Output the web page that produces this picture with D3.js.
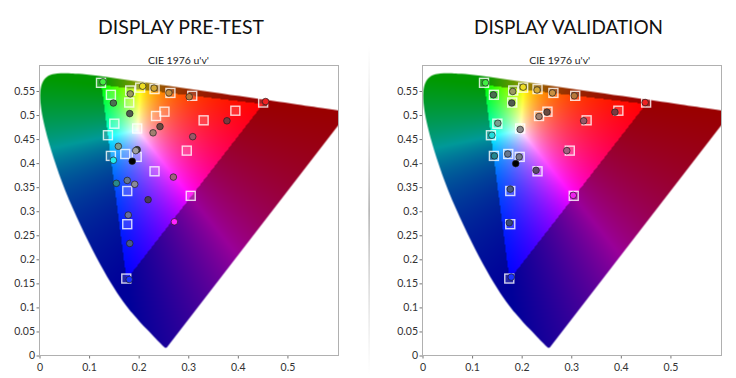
<!DOCTYPE html>
<html><head><meta charset="utf-8">
<script src="https://cdn.jsdelivr.net/npm/d3@7"></script>
<style>
body{margin:0;background:#fff;}
svg{display:block;font-family:Lato,"Liberation Sans",Arial,sans-serif;}
</style>
</head><body>
<svg id="chart" width="736" height="378"></svg>
<script>
// CIE 1931 2° spectral locus chromaticities (x, y)
const locusNm = [380,410,420,425,430,435,440,445,450,455,460,465,470,475,480,485,490,495,500,505,510,515,520,525,530,535,540,550,560,570,580,590,600,610,620,640,660,700];
const locusX = [0.1741,0.1726,0.1714,0.1703,0.1689,0.1669,0.1644,0.1611,0.1566,0.1510,0.1440,0.1355,0.1241,0.1096,0.0913,0.0687,0.0454,0.0235,0.0082,0.0039,0.0139,0.0389,0.0743,0.1142,0.1547,0.1929,0.2296,0.3016,0.3731,0.4441,0.5125,0.5752,0.6270,0.6658,0.6915,0.7190,0.7300,0.7347];
const locusY = [0.0050,0.0048,0.0051,0.0058,0.0069,0.0086,0.0109,0.0138,0.0177,0.0227,0.0297,0.0399,0.0578,0.0868,0.1327,0.2007,0.2950,0.4127,0.5384,0.6548,0.7502,0.8120,0.8338,0.8262,0.8059,0.7816,0.7543,0.6923,0.6245,0.5547,0.4866,0.4242,0.3725,0.3340,0.3083,0.2809,0.2700,0.2653];

const panelTitles = ["DISPLAY PRE-TEST", "DISPLAY VALIDATION"];
const subTitle = "CIE 1976 u'v'";
const xTicks = [0, 0.1, 0.2, 0.3, 0.4, 0.5];
const yTicks = [0, 0.05, 0.1, 0.15, 0.2, 0.25, 0.3, 0.35, 0.4, 0.45, 0.5, 0.55];

// target chromaticities (squares), same in both panels
const targetU = [0.124,0.144,0.183,0.181,0.203,0.232,0.264,0.308,0.451,0.395,0.331,0.252,0.235,0.151,0.197,0.138,0.144,0.173,0.196,0.297,0.232,0.177,0.305,0.177,0.175];
const targetV = [0.567,0.542,0.551,0.526,0.557,0.554,0.546,0.540,0.526,0.509,0.489,0.507,0.498,0.482,0.472,0.458,0.415,0.419,0.413,0.426,0.383,0.342,0.332,0.273,0.160];

// measured (circles) – pre-test
const preU = [0.128,0.208,0.231,0.261,0.302,0.456,0.183,0.149,0.182,0.378,0.243,0.229,0.309,0.159,0.197,0.194,0.149,0.187,0.270,0.177,0.155,0.192,0.219,0.272,0.179,0.182,0.181];
const preV = [0.569,0.560,0.556,0.546,0.538,0.528,0.544,0.525,0.503,0.488,0.476,0.463,0.455,0.435,0.428,0.426,0.406,0.404,0.371,0.364,0.358,0.356,0.324,0.278,0.292,0.233,0.158];
const preColor = ["#44ee44","#eedd22","#d4aa33","#c89040","#b8783a","#ee2222","#9a9a60","#4a7050","#505a50","#7a3a40","#6a4a40","#a08070","#985868","#78a090","#3a3a3a","#a0a0a0","#22eeee","#000000","#a06080","#687890","#2a8a8a","#8a8a98","#4a3a58","#ff22ff","#6a70a0","#4a5a8a","#1a33ff"];

// measured (circles) – validation
const valU = [0.127,0.203,0.231,0.262,0.306,0.449,0.182,0.143,0.180,0.388,0.251,0.235,0.325,0.152,0.197,0.140,0.145,0.172,0.195,0.188,0.291,0.229,0.177,0.304,0.175,0.179];
const valV = [0.567,0.558,0.552,0.546,0.540,0.526,0.549,0.542,0.525,0.506,0.506,0.497,0.488,0.483,0.470,0.458,0.415,0.419,0.413,0.399,0.426,0.385,0.346,0.333,0.276,0.163];
const valColor = ["#44ee44","#eedd22","#d4aa33","#c89040","#b8783a","#ee2222","#9a9a60","#4a7050","#505a50","#7a3a40","#6a4a40","#a08070","#985868","#78a090","#8a8a8a","#22dddd","#228890","#687890","#707888","#000000","#a06080","#5a4a6a","#4a5a80","#ee22ee","#3a4a7a","#1a33ff"];

const svg = d3.select("#chart");
const W = 299, H = 290, DOM = 0.603;
const panels = [
  {x0: 39.5, y0: 65.5, title: panelTitles[0], tx: 181, sx: 178.5, tl: 166, u: preU, v: preV, c: preColor},
  {x0: 422.5, y0: 65.5, title: panelTitles[1], tx: 568.5, sx: 559.7, tl: 189, u: valU, v: valV, c: valColor}
];

const x = d3.scaleLinear().domain([0, DOM]).range([0, W]);
const y = d3.scaleLinear().domain([0, DOM]).range([H, 0]);

const locus = locusX.map((lx, i) => {
  const ly = locusY[i];
  const d = -2 * lx + 12 * ly + 3;
  return [4 * lx / d, 9 * ly / d];
});

function gamutImage() {
  const cv = document.createElement("canvas");
  cv.width = W; cv.height = H;
  const ctx = cv.getContext("2d");
  const img = ctx.createImageData(W, H);
  for (let py = 0; py < H; py++) {
    for (let px = 0; px < W; px++) {
      const u = x.invert(px + 0.5), v = y.invert(py + 0.5);
      const den = 6 * u - 16 * v + 12;
      const cx = 9 * u / den, cy = 4 * v / den;
      let r = 0, g = 0, b = 0;
      if (cy > 1e-4) {
        const X = cx / cy, Y = 1, Z = (1 - cx - cy) / cy;
        r = 3.2406 * X - 1.5372 * Y - 0.4986 * Z;
        g = -0.9689 * X + 1.8758 * Y + 0.0415 * Z;
        b = 0.0557 * X - 0.2040 * Y + 1.0570 * Z;
      }
      const inside = r >= 0 && g >= 0 && b >= 0;
      r = Math.max(r, 0); g = Math.max(g, 0); b = Math.max(b, 0);
      const m = Math.max(r, g, b) || 1;
      const k = inside ? 1 : 0.6;
      const i = (py * W + px) * 4;
      img.data[i] = Math.round(255 * k * r / m);
      img.data[i + 1] = Math.round(255 * k * g / m);
      img.data[i + 2] = Math.round(255 * k * b / m);
      img.data[i + 3] = 255;
    }
  }
  ctx.putImageData(img, 0, 0);
  ctx.globalCompositeOperation = "destination-in";
  ctx.beginPath();
  d3.line().x(d => x(d[0])).y(d => y(d[1])).curve(d3.curveCatmullRom).context(ctx)(locus);
  ctx.closePath();
  ctx.fillStyle = "#000";
  ctx.fill();
  return cv.toDataURL();
}
const gamutURL = gamutImage();

// divider
const defs = svg.append("defs");
const lg = defs.append("linearGradient").attr("id", "div").attr("x1", 0).attr("x2", 0).attr("y1", 0).attr("y2", 1);
lg.append("stop").attr("offset", "0").attr("stop-color", "#bbb").attr("stop-opacity", 0);
lg.append("stop").attr("offset", "0.5").attr("stop-color", "#999").attr("stop-opacity", 1);
lg.append("stop").attr("offset", "1").attr("stop-color", "#bbb").attr("stop-opacity", 0);
svg.append("rect").attr("x", 368.5).attr("y", 45).attr("width", 1.2).attr("height", 330).attr("fill", "url(#div)");

panels.forEach(p => {
  svg.append("text").attr("x", p.tx).attr("y", 34).attr("text-anchor", "middle")
    .attr("font-size", 20).attr("fill", "#111")
    .attr("textLength", p.tl).attr("lengthAdjust", "spacingAndGlyphs").text(p.title);
  svg.append("text").attr("x", p.sx).attr("y", 63.5).attr("text-anchor", "middle")
    .attr("font-size", 9).attr("fill", "#222")
    .attr("textLength", 61).attr("lengthAdjust", "spacingAndGlyphs").text(subTitle);

  const g = svg.append("g").attr("transform", `translate(${p.x0},${p.y0})`);
  g.append("defs").append("clipPath").attr("id", "clip" + p.x0).append("rect").attr("width", W).attr("height", H);
  g.append("image").attr("href", gamutURL).attr("width", W).attr("height", H);

  const fmt = d => d === 0 ? "0" : String(d);
  const ax = g.append("g").attr("transform", `translate(0,${H})`)
    .call(d3.axisBottom(x).tickValues(xTicks).tickSize(3).tickPadding(5).tickFormat(fmt));
  const ay = g.append("g")
    .call(d3.axisLeft(y).tickValues(yTicks).tickSize(3).tickPadding(1.5).tickFormat(fmt));
  [ax, ay].forEach(a => {
    a.select(".domain").remove();
    a.selectAll("line").attr("stroke", "#777");
    a.selectAll("text").attr("fill", "#333").attr("font-size", 10.5).attr("font-family", 'Lato,"Liberation Sans",Arial,sans-serif');
  });

  g.append("rect").attr("width", W).attr("height", H).attr("fill", "none").attr("stroke", "#b0b0b0").attr("stroke-width", 1);

  const pts = g.append("g").attr("clip-path", `url(#clip${p.x0})`);
  pts.selectAll("rect.t").data(targetU).join("rect").attr("class", "t")
    .attr("x", (d, i) => x(d) - 4.5).attr("y", (d, i) => y(targetV[i]) - 4.5)
    .attr("width", 9).attr("height", 9)
    .attr("fill", "rgba(255,255,255,0.15)").attr("stroke", "rgba(255,255,255,0.8)").attr("stroke-width", 1.4);
  pts.selectAll("circle").data(p.u).join("circle")
    .attr("cx", d => x(d)).attr("cy", (d, i) => y(p.v[i])).attr("r", 3.3)
    .attr("fill", (d, i) => p.c[i]).attr("stroke", "rgba(30,30,30,0.75)").attr("stroke-width", 0.9);
});
</script>
</body></html>
